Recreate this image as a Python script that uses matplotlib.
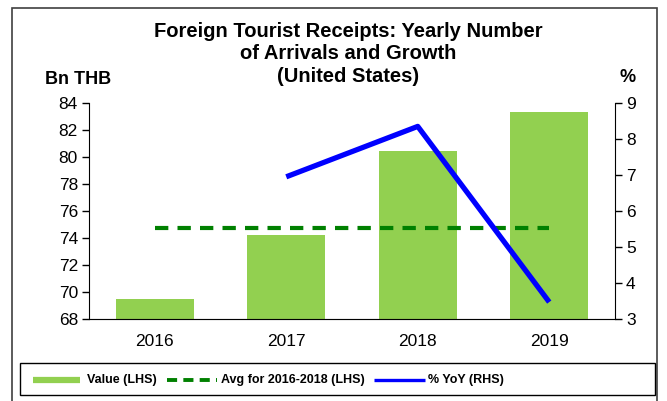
import matplotlib.pyplot as plt
from matplotlib.patches import Rectangle

plt.rcParams['font.family'] = ['Liberation Sans', 'DejaVu Sans']

years = ["2016", "2017", "2018", "2019"]
value_bn = [69.5, 74.2, 80.45, 83.3]
avg_2016_2018 = 74.72
yoy_years = ["2017", "2018", "2019"]
yoy_pct = [6.95, 8.35, 3.47]

fig = plt.figure(figsize=(6.67, 4.01), dpi=100)
ax = fig.add_axes([89 / 667, 1 - 319 / 401, 526 / 667, 216 / 401])
ax2 = ax.twinx()

x = list(range(len(years)))
ax.bar(x, [v - 68 for v in value_bn], bottom=68, width=0.59, color="#92d050", zorder=2)
ax.plot([0, 3], [avg_2016_2018, avg_2016_2018], color="#008000", lw=3,
        dashes=(3.2, 2.2), zorder=3)
ax2.plot([years.index(y) for y in yoy_years], yoy_pct, color="#0000ff", lw=3.8,
         solid_capstyle="butt")

ax.set_xlim(-0.5, 3.5)
ax.set_ylim(68, 84)
ax.set_yticks(range(68, 85, 2))
ax2.set_ylim(3, 9)
ax2.set_yticks(range(3, 10))
ax.set_xticks(x)
ax.set_xticklabels(years)

for a in (ax, ax2):
    a.spines["top"].set_visible(False)
    a.tick_params(labelsize=12.5, length=5, width=1, direction="out", pad=3)
    a.set_zorder(1)
ax.patch.set_visible(False)
ax2.spines["left"].set_visible(False)
ax.spines["right"].set_visible(False)
ax.spines["bottom"].set_color("#808080")
ax.tick_params(axis="x", length=0, pad=11)

fig.text(0.522, 1 - 22 / 401, "Foreign Tourist Receipts: Yearly Number\nof Arrivals and Growth\n(United States)",
         ha="center", va="top", fontsize=14.5, fontweight="bold", linespacing=1.22)
fig.text(45 / 667, 1 - 80 / 401, "Bn THB", ha="left", va="center", fontsize=13, fontweight="bold")
fig.text(628 / 667, 1 - 78 / 401, "%", ha="center", va="center", fontsize=13, fontweight="bold")

# outer frame and legend box
fig.patches.append(Rectangle((12 / 667, -0.01), 645 / 667, 1 - 8 / 401 + 0.01,
                             transform=fig.transFigure, fill=False, ec="#404040", lw=1.2))
fig.patches.append(Rectangle((20 / 667, 1 - 395 / 401), 635 / 667, 32 / 401,
                             transform=fig.transFigure, fill=False, ec="black", lw=1))

ly = 1 - 379.5 / 401
fig.lines.append(plt.Line2D([33 / 667, 80 / 667], [ly, ly], transform=fig.transFigure,
                            color="#92d050", lw=4.5, solid_capstyle="butt"))
fig.text(87 / 667, ly, "Value (LHS)", va="center", fontsize=9, fontweight="bold")
fig.lines.append(plt.Line2D([167 / 667, 217 / 667], [ly, ly], transform=fig.transFigure,
                            color="#008000", lw=2.8, dashes=(2.6, 1.6)))
fig.text(221 / 667, ly, "Avg for 2016-2018 (LHS)", va="center", fontsize=9, fontweight="bold")
fig.lines.append(plt.Line2D([374 / 667, 425 / 667], [ly, ly], transform=fig.transFigure,
                            color="#0000ff", lw=2.4, solid_capstyle="butt"))
fig.text(428 / 667, ly, "% YoY (RHS)", va="center", fontsize=9, fontweight="bold")

fig.savefig("out.png", dpi=100)
